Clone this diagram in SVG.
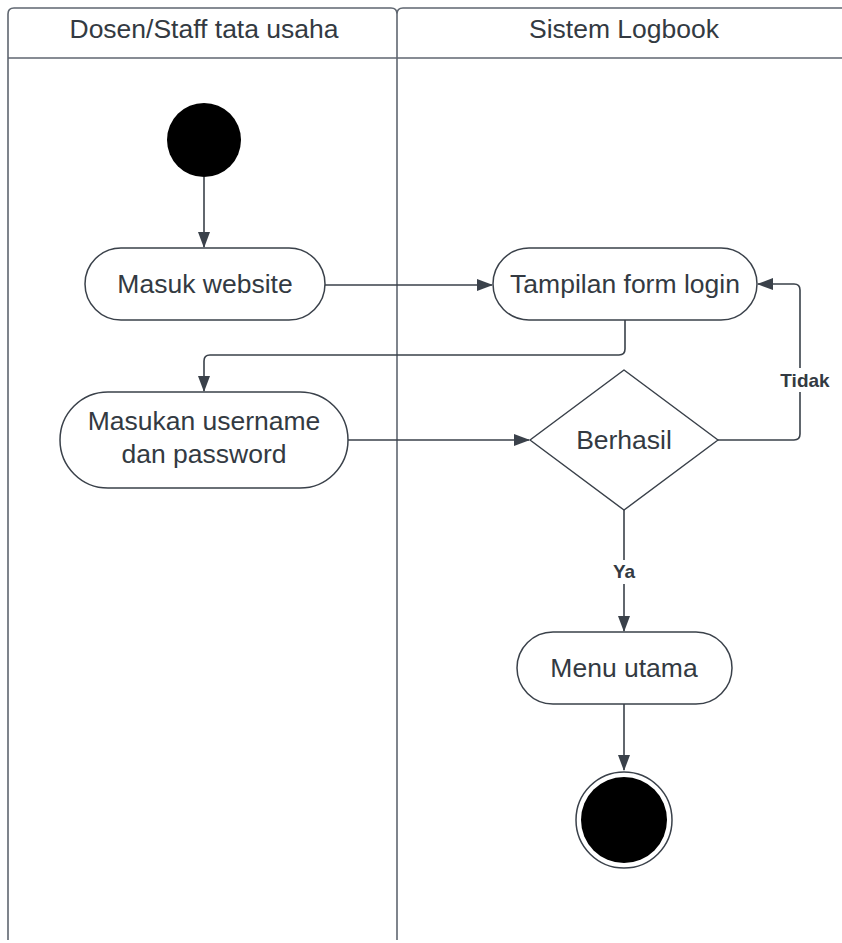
<svg xmlns="http://www.w3.org/2000/svg" width="842" height="943" viewBox="0 0 842 943">
<defs>
<style>
.lane{fill:#ffffff;stroke:#5f6670;stroke-width:1.6}
.node{fill:#ffffff;stroke:#3a414a;stroke-width:1.5}
.t{font-family:"Liberation Sans",Arial,sans-serif;font-size:26.5px;fill:#333a42;text-anchor:middle}
.h{font-family:"Liberation Sans",Arial,sans-serif;font-size:25px;fill:#333a42;text-anchor:middle}
.lbl{font-family:"Liberation Sans",Arial,sans-serif;font-size:19px;font-weight:bold;fill:#333a42;text-anchor:middle}
.c{fill:none;stroke:#3a414a;stroke-width:1.6}
</style>
<marker id="arr" markerWidth="16" markerHeight="12" refX="15" refY="6" orient="auto" markerUnits="userSpaceOnUse">
<path d="M0,0 L16,6 L0,12 Z" fill="#3a414a"/>
</marker>
</defs>
<rect width="842" height="943" fill="#ffffff"/>
<g id="lanes">
<path class="lane" d="M8,940 V14 Q8,8 14,8 H391 Q397,8 397,14 Q397,8 403,8 H850 V940"/>
<line class="lane" x1="397" y1="14" x2="397" y2="940"/>
<line class="lane" x1="8" y1="58" x2="850" y2="58"/>
<text class="h" x="204" y="38" textLength="269" lengthAdjust="spacingAndGlyphs">Dosen/Staff tata usaha</text>
<text class="h" x="624" y="38" textLength="190" lengthAdjust="spacingAndGlyphs">Sistem Logbook</text>
</g>
<g id="connectors">
<line class="c" x1="204" y1="177" x2="204" y2="247" marker-end="url(#arr)"/>
<line class="c" x1="325" y1="285" x2="492" y2="285" marker-end="url(#arr)"/>
<path class="c" d="M625,320 V349 Q625,355 619,355 H210 Q204,355 204,361 V391" marker-end="url(#arr)"/>
<line class="c" x1="348" y1="440" x2="529" y2="440" marker-end="url(#arr)"/>
<path class="c" d="M718,440 H794 Q800,440 800,434 V290 Q800,284 794,284 H758" marker-end="url(#arr)"/>
<line class="c" x1="624" y1="510" x2="624" y2="631" marker-end="url(#arr)"/>
<line class="c" x1="624" y1="704" x2="624" y2="770" marker-end="url(#arr)"/>
<rect x="774" y="368" width="62" height="24" fill="#ffffff"/>
<text class="lbl" x="805" y="387">Tidak</text>
<rect x="608" y="560" width="32" height="24" fill="#ffffff"/>
<text class="lbl" x="624" y="578">Ya</text>
</g>
<g id="start">
<circle cx="204" cy="140" r="37" fill="#000000"/>
</g>
<g id="masuk-website">
<rect class="node" x="85" y="248" width="240" height="72" rx="36"/>
<text class="t" x="205" y="293">Masuk website</text>
</g>
<g id="tampilan-form-login">
<rect class="node" x="493" y="248" width="264" height="72" rx="36"/>
<text class="t" x="625" y="293">Tampilan form login</text>
</g>
<g id="masukan-username">
<rect class="node" x="60" y="392" width="288" height="96" rx="48"/>
<text class="t" x="204" y="430">Masukan username</text>
<text class="t" x="204" y="463">dan password</text>
</g>
<g id="berhasil">
<path class="node" d="M624,370 L718,440 L624,510 L530,440 Z" stroke-linejoin="round"/>
<text class="t" x="624" y="449">Berhasil</text>
</g>
<g id="menu-utama">
<rect class="node" x="517" y="632" width="215" height="72" rx="36"/>
<text class="t" x="624" y="677">Menu utama</text>
</g>
<g id="end">
<circle cx="624" cy="820" r="48" fill="#ffffff" stroke="#3a414a" stroke-width="1.5"/>
<circle cx="624" cy="820" r="43" fill="#000000"/>
</g>
</svg>
